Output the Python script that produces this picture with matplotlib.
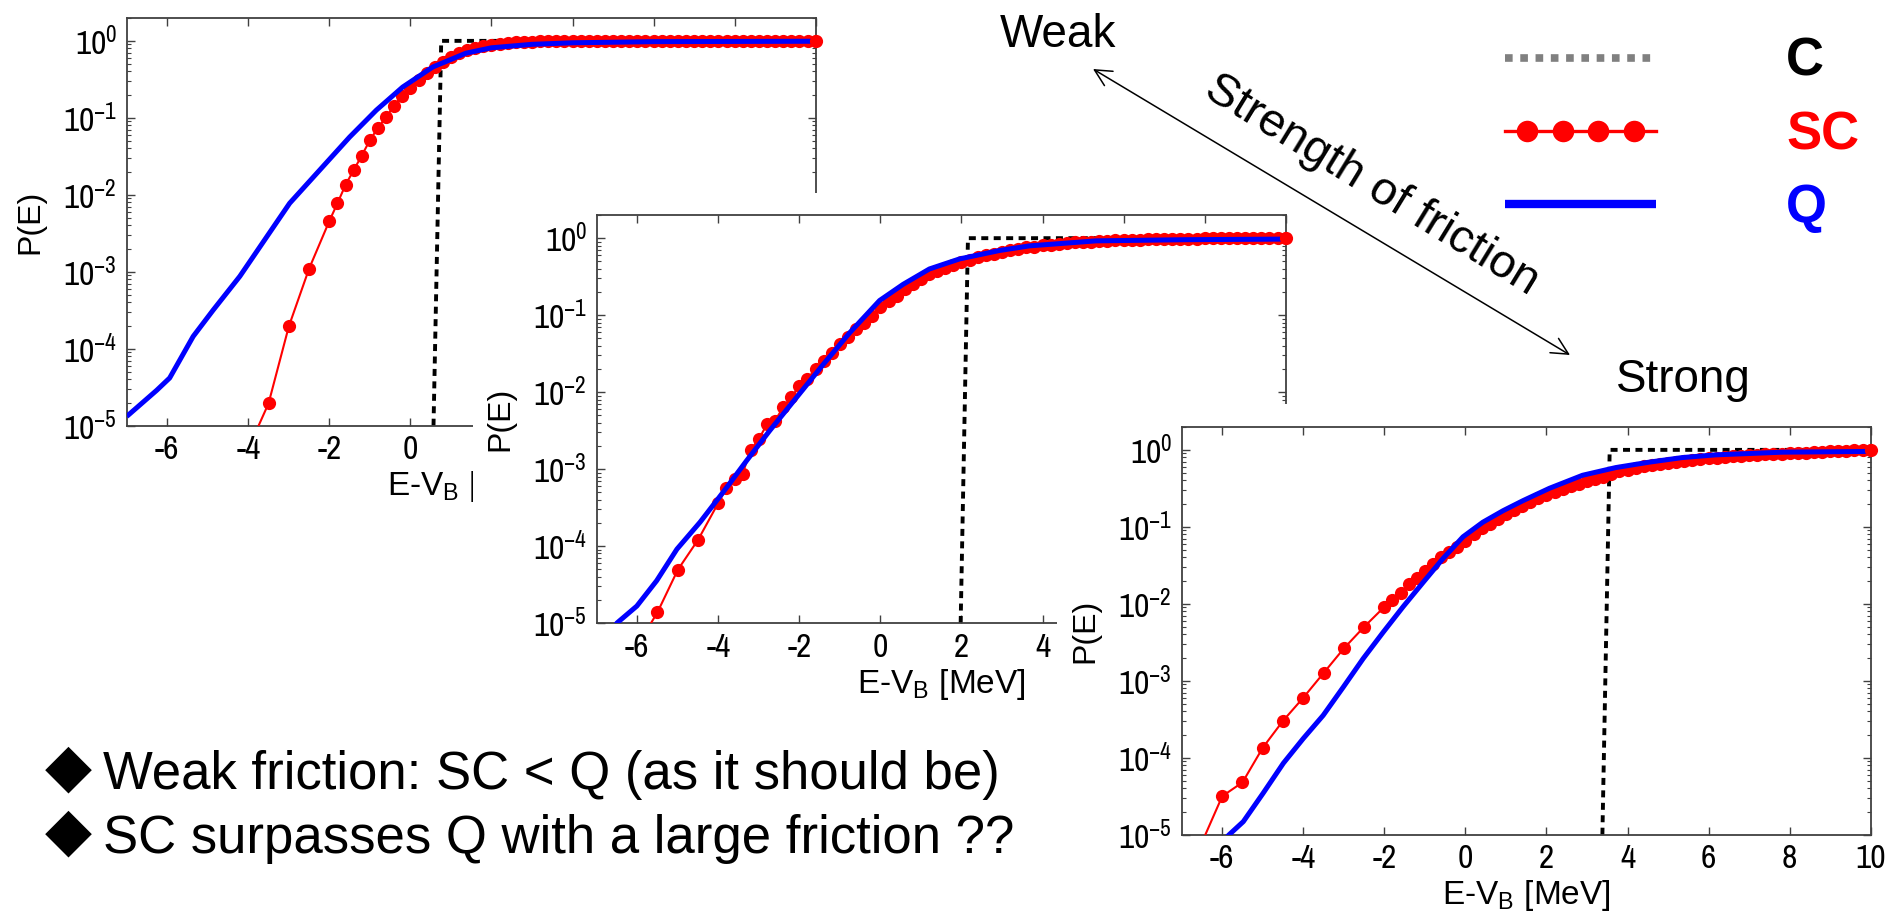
import matplotlib
matplotlib.use("Agg")
import matplotlib.pyplot as plt
import numpy as np
from matplotlib.lines import Line2D
from matplotlib.patches import Rectangle, FancyArrowPatch
from matplotlib.legend_handler import HandlerLine2D, HandlerTuple
from matplotlib.font_manager import FontProperties
from matplotlib.ticker import NullLocator, LogLocator, NullFormatter

plt.rcParams['font.family'] = ['Liberation Sans', 'DejaVu Sans']
plt.rcParams['axes.unicode_minus'] = False
plt.rcParams['xtick.labelsize'] = 24
plt.rcParams['ytick.labelsize'] = 24

# ---------------------------------------------------------------- data
# energy grid shared by the dense part of every SC curve (MeV)
FINE_X = [-2.0, -1.8, -1.6, -1.4, -1.2, -1.0, -0.8, -0.6, -0.4, -0.2,
          0.0, 0.2, 0.4, 0.6, 0.8, 1.0, 1.2, 1.4, 1.6, 1.8,
          2.0, 2.2, 2.4, 2.6, 2.8, 3.0, 3.2, 3.4, 3.6, 3.8,
          4.0, 4.2, 4.4, 4.6, 4.8, 5.0, 5.2, 5.4, 5.6, 5.8,
          6.0, 6.2, 6.4, 6.6, 6.8, 7.0, 7.2, 7.4, 7.6, 7.8,
          8.0, 8.2, 8.4, 8.6, 8.8, 9.0, 9.2, 9.4, 9.6, 9.8, 10.0]

# weak friction
sc1_x = [-4.0, -3.5, -3.0, -2.5] + FINE_X
sc1_log = [-5.30, -4.71, -3.71, -2.96,
           -2.34, -2.11, -1.87, -1.68, -1.49, -1.29, -1.13, -0.99, -0.84, -0.71,
           -0.61, -0.51, -0.42, -0.34, -0.27, -0.21, -0.16, -0.12, -0.09, -0.07,
           -0.05, -0.04, -0.03, -0.02, -0.015, -0.01, -0.008, -0.006, -0.005, -0.004,
           -0.003, -0.003, -0.002, -0.002, -0.002, -0.001, -0.001, -0.001, -0.001, -0.001,
           0.0, 0.0, 0.0, 0.0, 0.0, 0.0, 0.0, 0.0, 0.0, 0.0,
           0.0, 0.0, 0.0, 0.0, 0.0, 0.0, 0.0, 0.0, 0.0, 0.0, 0.0]
q1_x = [-7.0, -6.26, -5.94, -5.36, -4.87, -4.21, -3.55, -2.98, -2.24, -1.50,
        -0.84, -0.19, 0.55, 1.37, 2.0, 3.0, 4.0, 6.0, 10.0]
q1_log = [-4.88, -4.54, -4.38, -3.84, -3.50, -3.06, -2.55, -2.11, -1.68, -1.25,
          -0.90, -0.60, -0.34, -0.16, -0.09, -0.045, -0.025, -0.01, -0.005]
c1_x = [0.57, 0.76, 10.0]

# intermediate friction
sc2_x = [-6.0, -5.5, -5.0, -4.5, -4.0, -3.8, -3.6, -3.4, -3.2, -3.0,
         -2.8, -2.6, -2.4, -2.2] + FINE_X
sc2_log = [-5.30, -4.86, -4.31, -3.92, -3.44, -3.25, -3.13, -3.06, -2.75, -2.61,
           -2.42, -2.37, -2.20, -2.07,
           -1.92, -1.83, -1.70, -1.59, -1.49, -1.37, -1.28, -1.18, -1.10, -1.01,
           -0.90, -0.81, -0.75, -0.66, -0.60, -0.53, -0.47, -0.43, -0.39, -0.35,
           -0.31, -0.28, -0.25, -0.22, -0.20, -0.18, -0.16, -0.14, -0.12, -0.11,
           -0.095, -0.085, -0.075, -0.065, -0.055, -0.05, -0.045, -0.04, -0.035, -0.03,
           -0.026, -0.022, -0.019, -0.016, -0.013, -0.011, -0.009, -0.007, -0.006, -0.005,
           -0.004, -0.003, -0.003, -0.002, -0.002, -0.001, -0.001, -0.001, 0.0, 0.0, 0.0]
q2_x = [-6.6, -6.50, -6.01, -5.52, -5.02, -4.45, -3.88, -3.30, -2.73, -2.07,
        -1.41, -0.76, -0.02, 0.56, 1.21, 1.95, 2.94, 3.68, 5.32, 7.5, 10.0]
q2_log = [-5.10, -5.0, -4.78, -4.45, -4.04, -3.69, -3.30, -2.89, -2.50, -2.07,
          -1.64, -1.23, -0.81, -0.60, -0.40, -0.27, -0.16, -0.10, -0.035, -0.02, -0.012]
c2_x = [1.98, 2.16, 10.0]

# strong friction
sc3_x = [-6.5, -6.0, -5.5, -5.0, -4.5, -4.0, -3.5, -3.0, -2.5] + FINE_X
sc3_log = [-5.10, -4.50, -4.32, -3.87, -3.52, -3.22, -2.90, -2.58, -2.30,
           -2.04, -1.95, -1.86, -1.74, -1.66, -1.57, -1.48, -1.39, -1.33, -1.26,
           -1.18, -1.09, -1.02, -0.96, -0.90, -0.83, -0.78, -0.73, -0.68, -0.63,
           -0.59, -0.55, -0.51, -0.47, -0.44, -0.41, -0.38, -0.35, -0.31, -0.28,
           -0.26, -0.24, -0.21, -0.20, -0.18, -0.17, -0.155, -0.145, -0.13, -0.12,
           -0.11, -0.10, -0.09, -0.08, -0.075, -0.07, -0.065, -0.06, -0.055, -0.05,
           -0.045, -0.04, -0.035, -0.03, -0.025, -0.02, -0.015, -0.01, -0.007, -0.004, 0.0]
q3_x = [-6.1, -5.83, -5.48, -4.99, -4.49, -4.0, -3.51, -3.01, -2.52, -2.03,
        -1.54, -1.04, -0.55, -0.06, 0.43, 0.93, 1.42, 2.07, 2.89, 3.71,
        4.53, 5.35, 6.17, 7.82, 10.0]
q3_log = [-5.15, -5.0, -4.83, -4.46, -4.07, -3.75, -3.45, -3.08, -2.71, -2.37,
          -2.04, -1.72, -1.41, -1.13, -0.94, -0.79, -0.66, -0.50, -0.33, -0.23,
          -0.16, -0.10, -0.065, -0.03, -0.02]
c3_x = [3.38, 3.56, 10.0]

C_P = [1e-5, 1.0, 1.0]

XTICKS = [-6, -4, -2, 0, 2, 4, 6, 8, 10]
XTICKLABELS = ['-6', '-4', '-2', '0', '2', '4', '6', '8', '10']
YTICKS = [1e-5, 1e-4, 1e-3, 1e-2, 1e-1, 1e0]
YTICKLABELS = [r'$\mathregular{10^{-5}}$', r'$\mathregular{10^{-4}}$',
               r'$\mathregular{10^{-3}}$', r'$\mathregular{10^{-2}}$',
               r'$\mathregular{10^{-1}}$', r'$\mathregular{10^{0}}$']

LEGEND_LABELS = ['C', 'SC', 'Q']
LEGEND_COLORS = ['black', '#ff0000', '#0000ff']

BULLETS = ['Weak friction: SC < Q (as it should be)',
           'SC surpasses Q with a large friction ??']

# ---------------------------------------------------------------- layout
W, H = 1903, 919
PW, PH = 689, 408
SPINE = '#404040'
RED, BLUE = '#ff0000', '#0000ff'
TICK_FONT = ['Archivo Narrow', 'Liberation Sans']

fig = plt.figure(figsize=(W / 100, H / 100), dpi=100)
fig.patch.set_facecolor('white')


def fx(px):
    return px / W


def fy(py):
    return 1 - py / H


def backing(left, top, right, bottom, z):
    fig.add_artist(Rectangle((fx(left), fy(bottom)), fx(right) - fx(left),
                             fy(top) - fy(bottom), transform=fig.transFigure,
                             facecolor='white', edgecolor='none', zorder=z))


def panel(left, top, z, cx, scx, sclog, qx, qlog):
    ax = fig.add_axes([fx(left), fy(top + PH), PW / W, PH / H])
    ax.set_zorder(z)
    ax.set_yscale('log')
    ax.set_xlim(-7, 10)
    ax.set_ylim(1e-5, 2)

    sc_p = 10.0 ** np.array(sclog)
    q_p = 10.0 ** np.array(qlog)
    ax.plot(cx, C_P, color='black', lw=2.8, ls=(0, (1.8, 1.4)), zorder=2)
    ax.plot(scx, sc_p, color=RED, lw=1.5, marker='o', ms=9.5, mew=0, zorder=3)
    ax.plot(scx[-1:], sc_p[-1:], color=RED, lw=0, marker='o', ms=9.5, mew=0,
            zorder=6, clip_on=False)
    ax.plot(qx, q_p, color=BLUE, lw=3.6, zorder=4, solid_capstyle='butt')

    ax.set_xticks(XTICKS)
    ax.set_xticklabels(XTICKLABELS, fontsize=24, fontfamily=TICK_FONT)
    ax.set_yticks(YTICKS)
    ax.set_yticklabels(YTICKLABELS, fontsize=24, fontfamily=TICK_FONT)
    ax.yaxis.set_minor_locator(LogLocator(base=10, subs=[2, 3, 4, 5, 6, 7, 8, 9], numticks=20))
    ax.yaxis.set_minor_formatter(NullFormatter())
    ax.xaxis.set_minor_locator(NullLocator())
    ax.tick_params(which='both', direction='in', top=True, right=True, color=SPINE)
    ax.tick_params(which='major', length=5.5, width=1.0, pad=7,
                   labelsize=24, labelfontfamily=TICK_FONT)
    ax.tick_params(which='minor', length=3, width=0.8)
    for s in ax.spines.values():
        s.set_color(SPINE)
        s.set_linewidth(1.3)

    ax.set_ylabel('P(E)', fontsize=23, va='center')
    ax.yaxis.set_label_coords(-96 / PW, 0.5)
    ax.set_xlabel(r'E-V$_{\mathregular{B}}$ [MeV]', fontsize=24, va='center')
    ax.xaxis.set_label_coords(0.5, -61 / PH)
    return ax


panel(126.7, 17.7, 1, c1_x, sc1_x, sc1_log, q1_x, q1_log)
backing(473, 192.7, 1296, 720, 2)
panel(596.7, 215.0, 3, c2_x, sc2_x, sc2_log, q2_x, q2_log)
backing(1057, 404, W, H, 4)
panel(1181.7, 426.7, 5, c3_x, sc3_x, sc3_log, q3_x, q3_log)

# ---------------------------------------------------------------- legend
c_h = Line2D([], [], color='#808080', lw=5.5, ls=(0, (1, 1)))
sc_line_h = Line2D([], [], color=RED, lw=2.4)
sc_mark_h = Line2D([], [], color=RED, lw=0, marker='o', ms=15.5, mew=0)
q_h = Line2D([], [], color=BLUE, lw=6, solid_capstyle='butt')
leg = fig.legend([c_h, (sc_line_h, sc_mark_h), q_h], LEGEND_LABELS,
                 handler_map={sc_mark_h: HandlerLine2D(numpoints=4, marker_pad=0.41),
                              tuple: HandlerTuple(ndivide=1, pad=0)},
                 loc='upper left', bbox_to_anchor=(fx(1505), fy(37)),
                 frameon=False, borderpad=0, borderaxespad=0,
                 handlelength=2.86, handletextpad=2.47, labelspacing=0.44,
                 prop=FontProperties(family='Liberation Sans', weight='bold', size=38),
                 labelcolor=LEGEND_COLORS)
leg.set_zorder(10)

# ---------------------------------------------------------------- annotations
arrow = FancyArrowPatch((fx(1093), fy(69)), (fx(1570), fy(355)),
                        transform=fig.transFigure,
                        arrowstyle='<->,head_length=0.6,head_width=0.3',
                        mutation_scale=20, lw=1.1, color='black',
                        shrinkA=0, shrinkB=0, zorder=10)
fig.add_artist(arrow)
fig.text(fx(1000), fy(47), 'Weak', fontsize=33, va='baseline', ha='left', zorder=10)
fig.text(fx(1616), fy(392), 'Strong', fontsize=33, va='baseline', ha='left', zorder=10)
fig.text(fx(1372), fy(185), 'Strength of friction', fontsize=34, rotation=-31.5,
         rotation_mode='anchor', ha='center', va='center', zorder=10)

for i, line in enumerate(BULLETS):
    base = 789.3 + 64 * i
    fig.text(fx(68.3), fy(base - 20), '\u25c6', family='DejaVu Sans', fontsize=44,
             ha='center', va='center', zorder=10)
    fig.text(fx(103.3), fy(base), line, fontsize=38, va='baseline', ha='left', zorder=10)

fig.savefig('out.png', dpi=100, facecolor='white')
